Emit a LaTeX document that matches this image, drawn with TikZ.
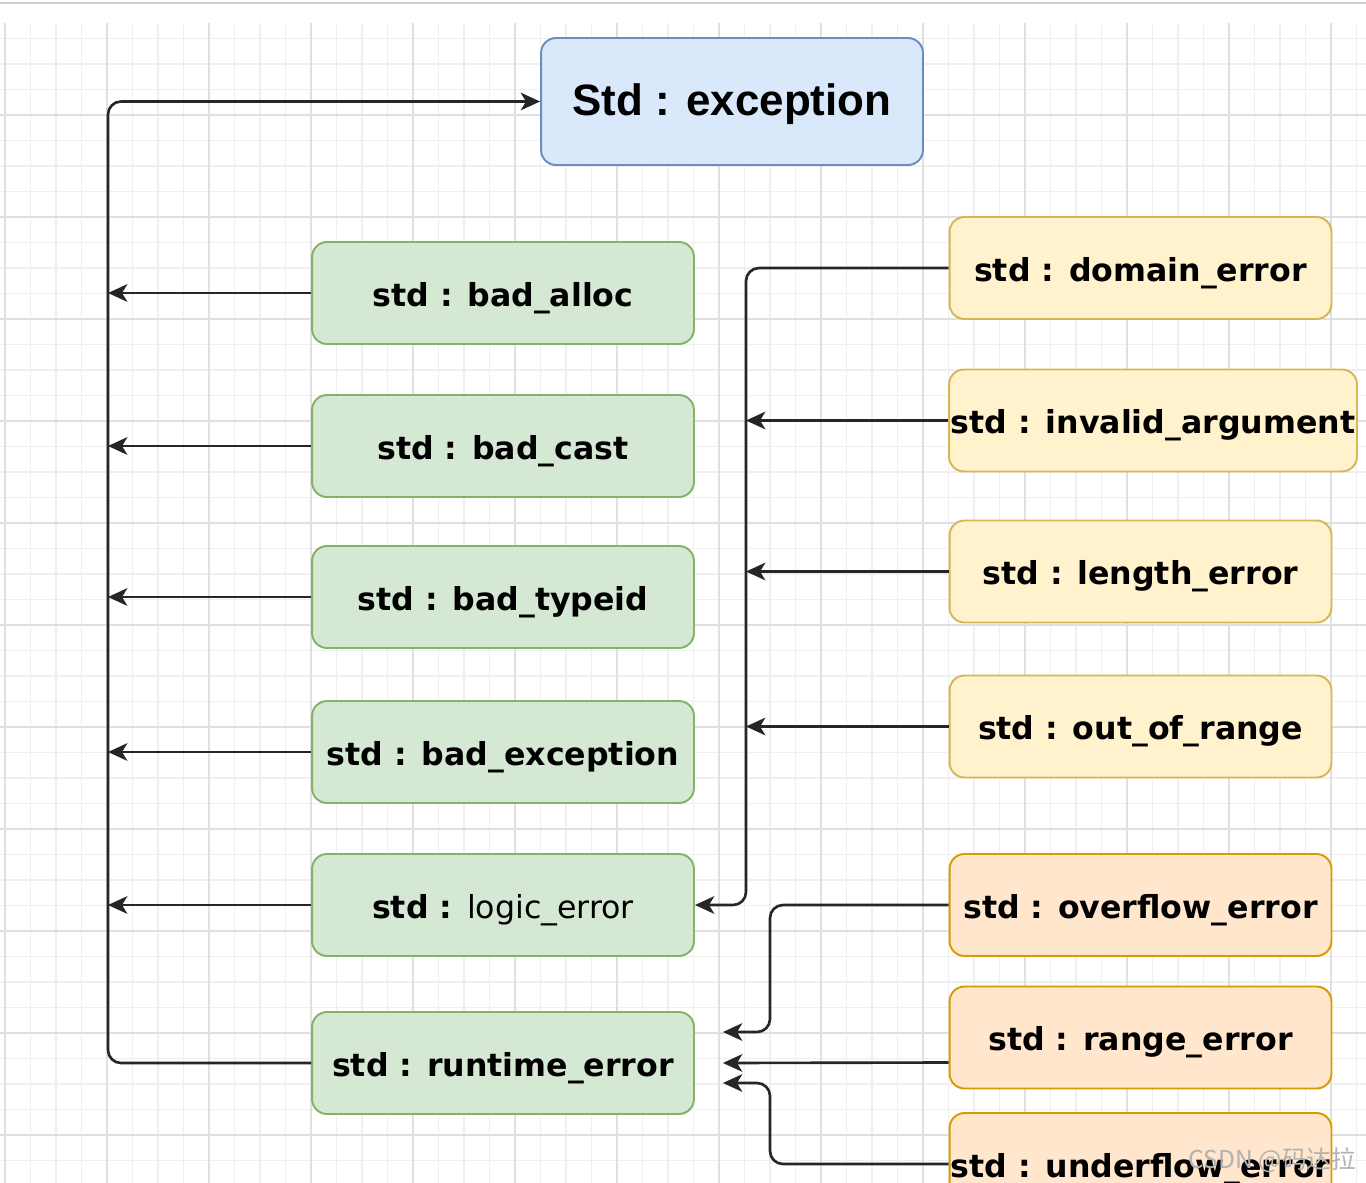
\documentclass[tikz,border=0pt]{standalone}
\usepackage{fontspec}
\setmainfont{DejaVu Sans}
\newfontfamily\titlefont{Liberation Sans}
\newfontfamily\cjkfont{Noto Sans CJK SC}
\usepackage{xcolor}
\usepackage{tikz}
\usetikzlibrary{calc,arrows.meta}
\definecolor{gridlo}{HTML}{EFEFEF}
\definecolor{gridhi}{HTML}{E0E0E0}
\definecolor{bluefill}{HTML}{DAE8FC}
\definecolor{blueline}{HTML}{6C8EBF}
\definecolor{greenfill}{HTML}{D5E8D4}
\definecolor{greenline}{HTML}{82B366}
\definecolor{yellowfill}{HTML}{FFF2CC}
\definecolor{yellowline}{HTML}{D6B656}
\definecolor{orangefill}{HTML}{FFE6CC}
\definecolor{orangeline}{HTML}{D79B00}

\begin{document}
\begin{tikzpicture}[x=0.02cm,y=-0.02cm]
                \tikzstyle{gridminor}=[draw=gridlo,line width=0.6pt]
                \tikzstyle{gridmajor}=[draw=gridhi,line width=0.8pt]
                \tikzstyle{box}=[rounded corners=0.3cm,line width=1.1pt,minimum width=7.64cm,minimum height=2.04cm,inner sep=0pt,text height=18pt,text depth=3pt,font=\bfseries\fontsize{18}{20}\selectfont]
                \tikzstyle{basebox}=[box,fill=bluefill,draw=blueline,minimum height=2.54cm,text height=22pt,text depth=6.6pt,font=\titlefont\bfseries\fontsize{25}{28}\selectfont]
                \tikzstyle{greenbox}=[box,fill=greenfill,draw=greenline]
                \tikzstyle{yellowbox}=[box,fill=yellowfill,draw=yellowline]
                \tikzstyle{orangebox}=[box,fill=orangefill,draw=orangeline]
                \tikzstyle{conn}=[draw=black!85,line width=1.5pt,rounded corners=0.26cm,-{Stealth[length=11pt,width=10pt,inset=3pt]}]
                \clip (0,0) rectangle (1366,1183);
                \fill [white] (0,0) rectangle (1366,1183);
                \draw [draw=black!18,line width=1pt] (0,3) -- (1366,3);
                \foreach \gx in {5,30.5,...,1366}
                    \draw [gridminor] (\gx,23) -- (\gx,1183);
                \foreach \gy in {38.5,64,...,1183}
                    \draw [gridminor] (0,\gy) -- (1366,\gy);
                \foreach \gx in {5,107,...,1366}
                    \draw [gridmajor] (\gx,23) -- (\gx,1183);
                \foreach \gy in {115,217,...,1183}
                    \draw [gridmajor] (0,\gy) -- (1366,\gy);
                \node [basebox] (exc) at (732,101.5) {Std : exception};
                \node [greenbox] (balloc) at (503,293) {std : bad\_alloc};
                \node [greenbox] (bcast) at (503,446) {std : bad\_cast};
                \node [greenbox] (btypeid) at (503,597) {std : bad\_typeid};
                \node [greenbox] (bexc) at (503,752) {std : bad\_exception};
                \node [greenbox] (lerr) at (503,905) {std : \mdseries logic\_error};
                \node [greenbox] (rterr) at (503,1063) {std : runtime\_error};
                \node [yellowbox] (dom) at (1140.5,268) {std : domain\_error};
                \node [yellowbox,minimum width=8.16cm] (inval) at (1153,420.5) {std : invalid\_argument};
                \node [yellowbox] (len) at (1140.5,571.5) {std : length\_error};
                \node [yellowbox] (oor) at (1140.5,726.5) {std : out\_of\_range};
                \node [orangebox] (ovf) at (1140.5,905) {std : overflow\_error};
                \node [orangebox] (rng) at (1140.5,1037.5) {std : range\_error};
                \node [orangebox] (unf) at (1140.5,1164) {std : underflow\_error};
                \coordinate (ltrunk) at (108,0);
                \coordinate (rtrunk) at (746,0);
                \coordinate (otrunk) at (770,0);
                \coordinate (rtin1) at ([shift={(28,-31)}]rterr.east);
                \coordinate (rtin2) at ([shift={(28,0)}]rterr.east);
                \coordinate (rtin3) at ([shift={(28,20)}]rterr.east);
                \draw [conn] (rterr.west) -- (rterr.west -| ltrunk) |- (exc.west);
                \foreach \n in {balloc,bcast,btypeid,bexc,lerr}
                    \draw [conn] (\n.west) -- (\n.west -| ltrunk);
                \draw [conn] (dom.west) -- (dom.west -| rtrunk) |- (lerr.east);
                \foreach \n in {inval,len,oor}
                    \draw [conn] (\n.west) -- (\n.west -| rtrunk);
                \draw [conn] (ovf.west) -- (ovf.west -| otrunk) |- (rtin1);
                \draw [conn] ([shift={(0,25)}]rng.west) -- (rtin2);
                \draw [conn] (unf.west) -- (unf.west -| otrunk) |- (rtin3);
                \node [anchor=east,text=black!30,font=\cjkfont\fontsize{14}{16}\selectfont] (mark) at (1362,1160) {CSDN @码达拉};
\end{tikzpicture}
\end{document}
